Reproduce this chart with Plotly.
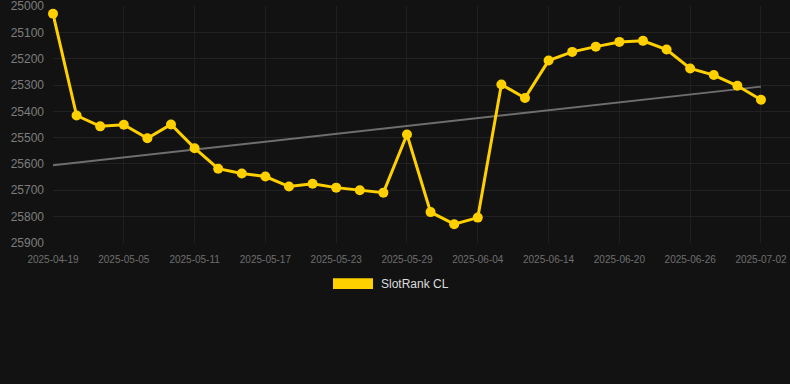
import plotly.graph_objects as go

dates = [
    "2025-04-19", "2025-04-23", "2025-04-29", "2025-05-05", "2025-05-07", "2025-05-09",
    "2025-05-11", "2025-05-13", "2025-05-15", "2025-05-17", "2025-05-19", "2025-05-21",
    "2025-05-23", "2025-05-25", "2025-05-27", "2025-05-29", "2025-05-31", "2025-06-02",
    "2025-06-04", "2025-06-08", "2025-06-12", "2025-06-14", "2025-06-16", "2025-06-18",
    "2025-06-20", "2025-06-22", "2025-06-24", "2025-06-26", "2025-06-28", "2025-06-30",
    "2025-07-02",
]
rank = [
    25029, 25416, 25457, 25451, 25502, 25450, 25540, 25618, 25636, 25648, 25686, 25675,
    25690, 25700, 25709, 25488, 25783, 25829, 25804, 25298, 25349, 25207, 25174, 25154,
    25136, 25132, 25165, 25237, 25262, 25303, 25356,
]
trend_dates = ["2025-04-19", "2025-07-02"]
trend_values = [25605, 25306]
tick_labels = dates[::3]
y_ticks = [25000, 25100, 25200, 25300, 25400, 25500, 25600, 25700, 25800, 25900]
y_tick_text = [str(v) for v in y_ticks]
series_name = "SlotRank CL"

GOLD = "#FFD000"
BG = "#121212"

fig = go.Figure()
fig.add_trace(go.Scatter(
    x=trend_dates, y=trend_values, mode="lines",
    line=dict(color="#6e6e6e", width=2), hoverinfo="skip", showlegend=False,
))
fig.add_trace(go.Scatter(
    x=dates, y=rank, mode="lines+markers", name=series_name,
    line=dict(color=GOLD, width=3), marker=dict(color=GOLD, size=10),
    cliponaxis=False, showlegend=False,
))

fig.update_layout(
    width=790, height=384,
    paper_bgcolor=BG, plot_bgcolor=BG,
    margin=dict(l=53, r=0, t=6, b=141),
    font=dict(family="Liberation Sans, Arial, sans-serif"),
    showlegend=False,
    xaxis=dict(
        type="category", categoryorder="array", categoryarray=dates,
        range=[0, 31.23],
        tickmode="array", tickvals=tick_labels, ticktext=tick_labels,
        tickfont=dict(size=10, color="#6f6f6f"),
        showgrid=True, gridcolor="#1f1f1f", gridwidth=1,
        zeroline=False, showline=False, ticks="",
        ticklabelstandoff=9, ticklabeloverflow="allow",
    ),
    yaxis=dict(
        range=[25900.5, 24999.5],
        tickmode="array", tickvals=y_ticks, ticktext=y_tick_text,
        tickfont=dict(size=12, color="#7d7d7d"),
        showgrid=True, gridcolor="#222222", gridwidth=1,
        zeroline=False, showline=False, ticks="",
        ticklabelstandoff=8, ticklabeloverflow="allow",
    ),
    shapes=[dict(
        type="rect", xref="paper", yref="paper",
        x0=(333 - 53) / 737, x1=(373 - 53) / 737,
        y0=(243.3 - 289.3) / 237.3, y1=(243.3 - 278.7) / 237.3,
        fillcolor=GOLD, line=dict(width=0),
    )],
    annotations=[dict(
        xref="paper", yref="paper",
        x=(379 - 53) / 737, y=(243.3 - 284) / 237.3,
        xanchor="left", yanchor="middle", showarrow=False,
        text=series_name, font=dict(size=12, color="#dddddd"),
    )],
)

fig.write_html(
    "out.html",
    config={"displayModeBar": False},
    post_script="document.body.style.margin='0';document.body.style.background='#121212';",
)
